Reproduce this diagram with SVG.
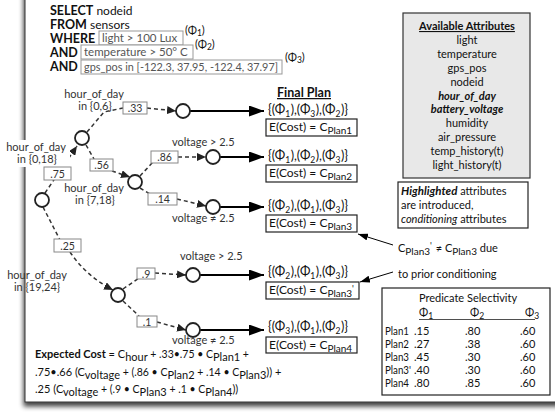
<svg xmlns="http://www.w3.org/2000/svg" width="555" height="417" viewBox="0 0 555 417">
<defs>
<style>
text{font-family:Lato,"Liberation Sans",sans-serif;fill:#111;font-size:11px}
.kw{font-weight:bold;font-size:12.5px}
.rg{font-size:12px}
.sq{font-size:11.5px;fill:#555}
.lb{font-size:11px;fill:#333}
.pv{font-size:10.5px;fill:#333}
.pb{fill:#fff;stroke:#888;stroke-width:1}
.sb{stroke:#999;stroke-width:1;fill:#fff}
.cir{fill:#fff;stroke:#222;stroke-width:1.8}
.dsh{stroke:#333;stroke-width:1.5;stroke-dasharray:4 3;fill:none}
.thk{stroke:#000;stroke-width:2.2;fill:none}
.thin{stroke:#000;stroke-width:1;fill:none}
.pl{font-size:12.5px}
.pe{font-size:12px}
.bx{fill:#fff;stroke:#222;stroke-width:1.2}
.s{font-size:8.5px}
.s2{font-size:10px}
.c{text-anchor:middle}
</style>
<marker id="ah" markerUnits="userSpaceOnUse" markerWidth="9" markerHeight="8" refX="9" refY="4" orient="auto"><path d="M0,0 L9,4 L0,8 z" fill="#222"/></marker>
<marker id="AH" markerUnits="userSpaceOnUse" markerWidth="15" markerHeight="11" refX="15" refY="5.5" orient="auto"><path d="M0,0 L15,5.5 L0,11 z" fill="#000"/></marker>
<marker id="sa" markerUnits="userSpaceOnUse" markerWidth="10" markerHeight="7" refX="10" refY="3.5" orient="auto"><path d="M0,0 L10,3.5 L0,7 z" fill="#000"/></marker>
<filter id="sh" x="-10%" y="-10%" width="120%" height="120%"><feGaussianBlur in="SourceAlpha" stdDeviation="2.5"/><feOffset dx="-1" dy="4"/><feComponentTransfer><feFuncA type="linear" slope="0.75"/></feComponentTransfer><feMerge><feMergeNode/><feMergeNode in="SourceGraphic"/></feMerge></filter>
</defs>
<rect width="555" height="417" fill="#fff"/>
<rect id="frame" x="25" y="-30" width="560" height="432" fill="#fff" stroke="#333" stroke-width="1" filter="url(#sh)"/>

<g id="sql">
<text x="50" y="15" class="rg"><tspan class="kw">SELECT</tspan> nodeid</text>
<text x="50" y="29" class="rg"><tspan class="kw">FROM</tspan> sensors</text>
<text x="50" y="43" class="kw">WHERE</text>
<rect class="sb" x="99" y="31" width="84" height="14"/>
<text x="102" y="42" class="sq">light &gt; 100 Lux</text>
<text x="185" y="34" font-size="10">(Φ<tspan class="s" dy="2">1</tspan><tspan dy="-2">)</tspan></text>
<text x="50" y="57" class="kw">AND</text>
<rect class="sb" x="81" y="45" width="112" height="14"/>
<text x="84" y="56" class="sq">temperature &gt; 50° C</text>
<text x="195" y="48" font-size="10">(Φ<tspan class="s" dy="2">2</tspan><tspan dy="-2">)</tspan></text>
<text x="50" y="71" class="kw">AND</text>
<rect class="sb" x="81" y="60" width="201" height="14"/>
<text x="84" y="71" class="sq" textLength="194" lengthAdjust="spacingAndGlyphs">gps_pos in [-122.3, 37.95, -122.4, 37.97]</text>
<text x="285" y="61" font-size="10">(Φ<tspan class="s" dy="2">3</tspan><tspan dy="-2">)</tspan></text>
</g>

<g id="connectors">
<path class="dsh" d="M45,193 L77,146" marker-end="url(#ah)"/>
<path class="dsh" d="M87,132 L104,112 L123,108"/>
<path class="dsh" d="M147,108 L176,111" marker-end="url(#ah)"/>
<path class="dsh" d="M86,145 L94,159"/>
<path class="dsh" d="M112,171 L130,177" marker-end="url(#ah)"/>
<path class="dsh" d="M140,176 L153,162"/>
<path class="dsh" d="M178,157 L206,157" marker-end="url(#ah)"/>
<path class="dsh" d="M140,188 L150,194"/>
<path class="dsh" d="M177,199 L206,206" marker-end="url(#ah)"/>
<path class="dsh" d="M43,207 L60,240"/>
<path class="dsh" d="M70,252 Q86,276 113,290" marker-end="url(#ah)"/>
<path class="dsh" d="M123,289 L139,278"/>
<path class="dsh" d="M155,273 L186,275" marker-end="url(#ah)"/>
<path class="dsh" d="M123,301 L139,316"/>
<path class="dsh" d="M157,322 L186,330" marker-end="url(#ah)"/>
<path class="thk" d="M190,111 L264,111" marker-end="url(#AH)"/>
<path class="thk" d="M220,157 L264,157" marker-end="url(#AH)"/>
<path class="thk" d="M220,207 L264,207" marker-end="url(#AH)"/>
<path class="thk" d="M200,275 L264,275" marker-end="url(#AH)"/>
<path class="thk" d="M200,330 L264,330" marker-end="url(#AH)"/>
<path class="thin" d="M393,245 L358,234" marker-end="url(#sa)"/>
<path class="thin" d="M393,272 L360,282" marker-end="url(#sa)"/>
</g>

<g id="label-0-18">
<rect x="3" y="140" width="67" height="27" fill="#fff"/>
<text x="36" y="151" class="lb c">hour_of_day</text>
<text x="37" y="163" class="lb c">in {0,18}</text>
</g>
<g id="label-0-6">
<text x="94" y="98" class="lb c">hour_of_day</text>
<text x="95" y="110" class="lb c">in {0,6}</text>
</g>
<g id="label-7-18">
<text x="94" y="192" class="lb c">hour_of_day</text>
<text x="95" y="204" class="lb c">in {7,18}</text>
</g>
<g id="label-19-24">
<text x="37" y="279" class="lb c">hour_of_day</text>
<text x="37" y="291" class="lb c">in {19,24}</text>
</g>
<g id="lbl-v1"><text x="172" y="146" class="lb">voltage &gt; 2.5</text></g>
<g id="lbl-v2"><text x="172" y="222" class="lb">voltage ≠ 2.5</text></g>
<g id="lbl-v3"><text x="180" y="260" class="lb">voltage &gt; 2.5</text></g>
<g id="lbl-v4"><text x="172" y="344" class="lb">voltage ≠ 2.5</text></g>

<g id="p75"><rect class="pb" x="44" y="167" width="27" height="13"/><text x="57.5" y="177.5" class="pv c">.75</text></g>
<g id="p33"><rect class="pb" x="123" y="102" width="24" height="12"/><text x="135" y="112" class="pv c">.33</text></g>
<g id="p56"><rect class="pb" x="90" y="159" width="23" height="12"/><text x="101.5" y="169" class="pv c">.56</text></g>
<g id="p86"><rect class="pb" x="151" y="151" width="27" height="12"/><text x="164.5" y="161" class="pv c">.86</text></g>
<g id="p14"><rect class="pb" x="148" y="193" width="29" height="12"/><text x="162.5" y="203" class="pv c">.14</text></g>
<g id="p25"><rect class="pb" x="54" y="239" width="27" height="13"/><text x="67.5" y="249.5" class="pv c">.25</text></g>
<g id="p9"><rect class="pb" x="137" y="268" width="18" height="11"/><text x="146" y="277.5" class="pv c">.9</text></g>
<g id="p1"><rect class="pb" x="137" y="316" width="20" height="11"/><text x="147" y="325.5" class="pv c">.1</text></g>

<g id="n-root"><circle class="cir" cx="42" cy="200" r="7"/></g>
<g id="n-a"><circle class="cir" cx="82" cy="138" r="7"/></g>
<g id="n-b"><circle class="cir" cx="135" cy="182" r="7"/></g>
<g id="n-c"><circle class="cir" cx="118" cy="295" r="7"/></g>
<g id="n-1"><circle class="cir" cx="183" cy="111" r="7"/></g>
<g id="n-2"><circle class="cir" cx="213" cy="157" r="7"/></g>
<g id="n-3"><circle class="cir" cx="213" cy="207" r="7"/></g>
<g id="n-4"><circle class="cir" cx="193" cy="275" r="7"/></g>
<g id="n-5"><circle class="cir" cx="193" cy="330" r="7"/></g>

<g id="final-plan-title"><text x="277" y="97" class="kw" text-decoration="underline">Final Plan</text></g>

<g id="plan1">
<text x="268" y="114" class="pl">{(Φ<tspan class="s" dy="3">1</tspan><tspan dy="-3" dx="0.5">),(Φ</tspan><tspan class="s" dy="3">3</tspan><tspan dy="-3" dx="0.5">),(Φ</tspan><tspan class="s" dy="3">2</tspan><tspan dy="-3" dx="0.5">)}</tspan></text>
<rect class="bx" x="266" y="119" width="91" height="17"/>
<text x="269" y="131" class="pe">E(Cost) = C<tspan class="s2" dy="3">Plan1</tspan></text>
</g>
<g id="plan2">
<text x="268" y="160" class="pl">{(Φ<tspan class="s" dy="3">1</tspan><tspan dy="-3" dx="0.5">),(Φ</tspan><tspan class="s" dy="3">2</tspan><tspan dy="-3" dx="0.5">),(Φ</tspan><tspan class="s" dy="3">3</tspan><tspan dy="-3" dx="0.5">)}</tspan></text>
<rect class="bx" x="266" y="165" width="91" height="17"/>
<text x="269" y="177" class="pe">E(Cost) = C<tspan class="s2" dy="3">Plan2</tspan></text>
</g>
<g id="plan3">
<text x="268" y="210" class="pl">{(Φ<tspan class="s" dy="3">2</tspan><tspan dy="-3" dx="0.5">),(Φ</tspan><tspan class="s" dy="3">1</tspan><tspan dy="-3" dx="0.5">),(Φ</tspan><tspan class="s" dy="3">3</tspan><tspan dy="-3" dx="0.5">)}</tspan></text>
<rect class="bx" x="266" y="215" width="91" height="17"/>
<text x="269" y="227" class="pe">E(Cost) = C<tspan class="s2" dy="3">Plan3</tspan></text>
</g>
<g id="plan3p">
<text x="268" y="276" class="pl">{(Φ<tspan class="s" dy="3">2</tspan><tspan dy="-3" dx="0.5">),(Φ</tspan><tspan class="s" dy="3">1</tspan><tspan dy="-3" dx="0.5">),(Φ</tspan><tspan class="s" dy="3">3</tspan><tspan dy="-3" dx="0.5">)}</tspan></text>
<rect class="bx" x="266" y="282" width="93" height="17"/>
<text x="269" y="294" class="pe">E(Cost) = C<tspan class="s2" dy="3">Plan3</tspan><tspan dy="-5" font-size="9">'</tspan></text>
</g>
<g id="plan4">
<text x="268" y="331" class="pl">{(Φ<tspan class="s" dy="3">3</tspan><tspan dy="-3" dx="0.5">),(Φ</tspan><tspan class="s" dy="3">1</tspan><tspan dy="-3" dx="0.5">),(Φ</tspan><tspan class="s" dy="3">2</tspan><tspan dy="-3" dx="0.5">)}</tspan></text>
<rect class="bx" x="266" y="337" width="91" height="16"/>
<text x="269" y="349" class="pe">E(Cost) = C<tspan class="s2" dy="3">Plan4</tspan></text>
</g>

<g id="attributes">
<rect x="403" y="13" width="127" height="165" fill="#e8e8e8" stroke="#333" stroke-width="1.2"/>
<text x="467" y="30" class="c" font-weight="bold" font-size="11.5" text-decoration="underline">Available Attributes</text>
<text x="467" y="44" class="c">light</text>
<text x="467" y="58" class="c">temperature</text>
<text x="467" y="72" class="c">gps_pos</text>
<text x="467" y="86" class="c">nodeid</text>
<text x="467" y="100" class="c" font-weight="bold" font-style="italic" font-size="11.5">hour_of_day</text>
<text x="467" y="113" class="c" font-weight="bold" font-style="italic" font-size="11.5">battery_voltage</text>
<text x="467" y="127" class="c">humidity</text>
<text x="467" y="141" class="c">air_pressure</text>
<text x="467" y="155" class="c">temp_history(t)</text>
<text x="467" y="169" class="c">light_history(t)</text>
</g>

<g id="legend">
<rect x="398" y="182" width="130" height="46" fill="#fff" stroke="#222" stroke-width="1.2"/>
<text x="401" y="195"><tspan font-weight="bold" font-style="italic" font-size="11.5">Highlighted</tspan> attributes</text>
<text x="401" y="209">are introduced,</text>
<text x="401" y="223"><tspan font-style="italic">conditioning</tspan> attributes</text>
</g>

<g id="note">
<text x="398" y="252">C<tspan class="s2" dy="3">Plan3</tspan><tspan dy="-6" font-size="9">'</tspan><tspan dy="3" dx="1"> ≠ C</tspan><tspan class="s2" dy="3">Plan3</tspan><tspan dy="-3"> due</tspan></text>
<text x="398" y="278">to prior conditioning</text>
</g>

<g id="table">
<rect x="382" y="288" width="168" height="107" fill="#fff" stroke="#222" stroke-width="1.2"/>
<text x="468" y="302" class="c">Predicate Selectivity</text>
<text x="419" y="316">Φ<tspan class="s" dy="3">1</tspan></text>
<text x="470" y="316">Φ<tspan class="s" dy="3">2</tspan></text>
<text x="525" y="316">Φ<tspan class="s" dy="3">3</tspan></text>
<line x1="419" y1="319.5" x2="535" y2="319.5" stroke="#222" stroke-width="0.8"/>
<text x="385" y="335" textLength="24" lengthAdjust="spacingAndGlyphs">Plan1</text><text x="414" y="335">.15</text><text x="465" y="335">.80</text><text x="520" y="335">.60</text>
<text x="385" y="348" textLength="24" lengthAdjust="spacingAndGlyphs">Plan2</text><text x="414" y="348">.27</text><text x="465" y="348">.38</text><text x="520" y="348">.60</text>
<text x="385" y="361" textLength="24" lengthAdjust="spacingAndGlyphs">Plan3</text><text x="414" y="361">.45</text><text x="465" y="361">.30</text><text x="520" y="361">.60</text>
<text x="385" y="374" textLength="26" lengthAdjust="spacingAndGlyphs">Plan3'</text><text x="414" y="374">.40</text><text x="465" y="374">.30</text><text x="520" y="374">.60</text>
<text x="385" y="387" textLength="24" lengthAdjust="spacingAndGlyphs">Plan4</text><text x="414" y="387">.80</text><text x="465" y="387">.85</text><text x="520" y="387">.60</text>
</g>

<g id="expected-cost">
<text x="35" y="358" font-size="12"><tspan font-weight="bold">Expected Cost</tspan> =  C<tspan font-size="11" dy="3">hour</tspan><tspan dy="-3" font-size="10.5"> + .33•.75 • C</tspan><tspan font-size="11" dy="3">Plan1</tspan><tspan dy="-3" font-size="10.5"> +</tspan></text>
<text x="35" y="376" font-size="11.5">.75•.66 (C<tspan font-size="11" dy="3">voltage</tspan><tspan dy="-3" font-size="10.5"> +  (.86 • C</tspan><tspan font-size="11" dy="3">Plan2</tspan><tspan dy="-3" font-size="10.5"> + .14 • C</tspan><tspan font-size="11" dy="3">Plan3</tspan><tspan dy="-3">)) +</tspan></text>
<text x="35" y="393" font-size="11.5">.25 (C<tspan font-size="11" dy="3">voltage</tspan><tspan dy="-3" font-size="10.5"> +  (.9 • C</tspan><tspan font-size="11" dy="3">Plan3</tspan><tspan dy="-3" font-size="10.5"> + .1 • C</tspan><tspan font-size="11" dy="3">Plan4</tspan><tspan dy="-3">))</tspan></text>
</g>
</svg>
